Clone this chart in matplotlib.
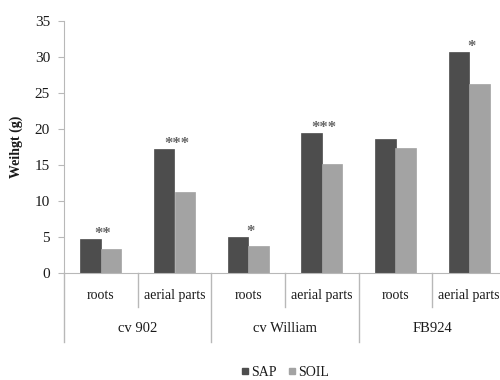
import matplotlib
matplotlib.use("Agg")
import matplotlib.pyplot as plt
from matplotlib.lines import Line2D
import matplotlib.transforms as mtransforms

plt.rcParams['font.family'] = ['Liberation Serif', 'DejaVu Serif']

groups = ["cv 902", "cv William", "FB924"]
parts = ["roots", "aerial parts"]
sap = [4.7, 17.2, 5.0, 19.4, 18.65, 30.65]
soil = [3.4, 11.3, 3.7, 15.2, 17.4, 26.3]
stars = ["**", "***", "*", "***", "", "*"]

c_sap = "#4d4d4d"
c_soil = "#a3a3a3"
c_axis = "#b8b8b8"
c_text = "#1a1a1a"

fig = plt.figure(figsize=(5, 3.8), dpi=100)
ax = fig.add_axes([64/500, 1-273/380, (506-64)/500, (273-21)/380])

n = len(sap)
xs = [i + 0.5 for i in range(n)]
w = 0.28
ax.bar([x - w/2 for x in xs], sap, width=w, color=c_sap, edgecolor=c_sap, linewidth=0.5)
ax.bar([x + w/2 for x in xs], soil, width=w, color=c_soil, edgecolor=c_soil, linewidth=0.5)

for x, s, a, b in zip(xs, stars, sap, soil):
    if s:
        ax.text(x + 0.03, max(a, b) - 0.4, s, ha='center', va='bottom', fontsize=12,
                fontweight='bold', color="#666666")

ax.set_xlim(0, n)
ax.set_ylim(0, 35)
ax.set_yticks(range(0, 36, 5))
ax.set_xticks([])
for sp in ['top', 'right']:
    ax.spines[sp].set_visible(False)
for sp in ['left', 'bottom']:
    ax.spines[sp].set_color(c_axis)
ax.tick_params(axis='y', colors=c_axis, labelcolor=c_text, labelsize=11, length=4, pad=6)
ax.set_ylabel("Weihgt (g)", fontsize=10, color=c_text, fontweight='bold')
ax.yaxis.set_label_coords((23-64)/442, 0.5)

trans = mtransforms.blended_transform_factory(ax.transData, ax.transAxes)
hax = 252.0
for i in range(1, n, 2):
    ax.plot([i, i], [0, -34/hax], transform=trans, color=c_axis, lw=1, clip_on=False)
for i in range(0, n + 1, 2):
    ax.plot([i, i], [0, -69/hax], transform=trans, color=c_axis, lw=1, clip_on=False)

for i, x in enumerate(xs):
    ax.text(x, -22.7/hax, parts[i % 2], transform=trans, ha='center', va='center',
            fontsize=10, color=c_text)
for g, name in enumerate(groups):
    ax.text(2*g + 1, -56/hax, name, transform=trans, ha='center', va='center',
            fontsize=10.5, color=c_text)

handles = [Line2D([], [], marker='s', linestyle='none', color=c_sap, markersize=5),
           Line2D([], [], marker='s', linestyle='none', color=c_soil, markersize=5)]
fig.legend(handles, ["SAP", "SOIL"], loc='center', bbox_to_anchor=(285/500, 1-372/380),
           ncol=2, frameon=False, fontsize=10, handlelength=0.6, handletextpad=0.15,
           columnspacing=0.8, labelcolor=c_text)

fig.savefig("out.png", dpi=100)
